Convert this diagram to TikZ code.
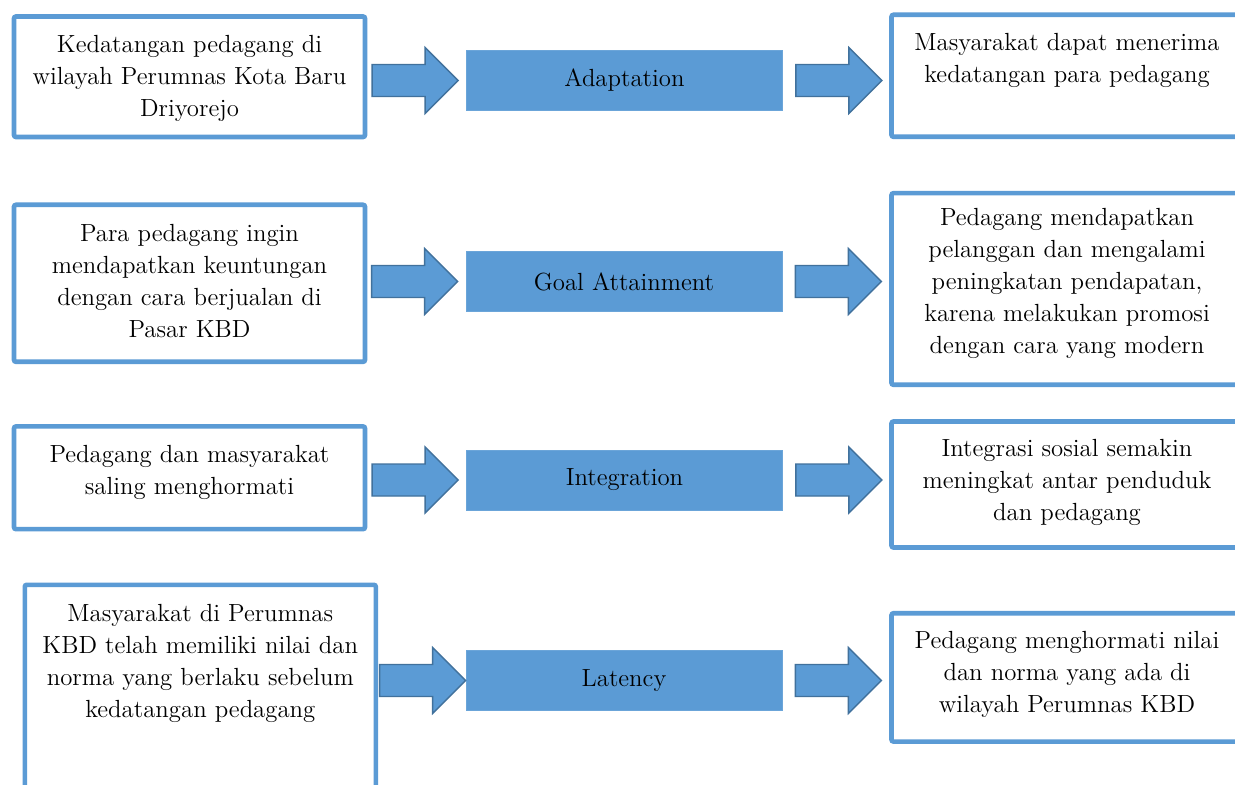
\documentclass[tikz,border=0pt]{standalone}
\usepackage{tikz}
\definecolor{boxblue}{HTML}{5B9BD5}
\definecolor{arrowedge}{HTML}{41719C}
\newcommand{\blockarrow}[1]{\draw[arrowstyle] (#1) -- ++(-33,-33) -- ++(0,17) -- ++(-53,0) -- ++(0,32) -- ++(53,0) -- ++(0,17) -- cycle;}

\begin{document}
\begin{tikzpicture}[x=0.5pt,y=-0.5pt,
    framebox/.style={draw=boxblue,line width=2.3pt,rounded corners=1pt,fill=white,inner sep=0pt,minimum width=175.5pt},
    midbox/.style={fill=boxblue,draw=boxblue!90!white,line width=0.4pt,inner sep=0pt,minimum width=158pt,minimum height=30pt,font=\fontsize{12.4}{16}\selectfont},
    boxtext/.style={anchor=north,align=center,inner sep=0pt,font=\fontsize{12.4}{16}\selectfont},
    arrowstyle/.style={fill=boxblue,draw=arrowedge,line width=0.7pt,line join=miter}]
  \useasboundingbox (0,0) rectangle (1235,785);
  \clip (0,0) rectangle (1235,785);
  \fill[white] (0,0) rectangle (1235,785);

  \node[framebox,minimum height=60.25pt] (L1) at (189.5,76.75) {};
  \node[framebox,minimum height=78.5pt] (L2) at (189.5,283.3) {};
  \node[framebox,minimum height=51.35pt] (L3) at (189.5,477.8) {};
  \node[framebox,minimum height=112.6pt] (L4) at (200.3,697.4) {};

  \node[boxtext] (tL1) at ([yshift=-10.5pt]L1.north) {Kedatangan pedagang di\\wilayah Perumnas Kota Baru\\Driyorejo};
  \node[boxtext] (tL2) at ([yshift=-10.5pt]L2.north) {Para pedagang ingin\\mendapatkan keuntungan\\dengan cara berjualan di\\Pasar KBD};
  \node[boxtext] (tL3) at ([yshift=-10.5pt]L3.north) {Pedagang dan masyarakat\\saling menghormati};
  \node[boxtext] (tL4) at ([yshift=-10.5pt]L4.north) {Masyarakat di Perumnas\\KBD telah memiliki nilai dan\\norma yang berlaku sebelum\\kedatangan pedagang};

  \node[midbox] (M1) at (624.5,80.5) {Adaptation};
  \node[midbox] (M2) at (624,281.5) {Goal Attainment};
  \node[midbox] (M3) at (624.5,480) {Integration};
  \node[midbox] (M4) at (624,680.5) {Latency};

  \node[framebox,minimum height=61pt] (R1) at (1067,75.8) {};
  \node[framebox,minimum height=95.8pt] (R2) at (1067,289) {};
  \node[framebox,minimum height=63pt] (R3) at (1067,484.5) {};
  \node[framebox,minimum height=64.15pt] (R4) at (1067,677.4) {};

  \node[boxtext] (tR1) at ([yshift=-10pt]R1.north) {Masyarakat dapat menerima\\kedatangan para pedagang};
  \node[boxtext] (tR2) at ([yshift=-8.5pt]R2.north) {Pedagang mendapatkan\\pelanggan dan mengalami\\peningkatan pendapatan,\\karena melakukan promosi\\dengan cara yang modern};
  \node[boxtext] (tR3) at ([yshift=-10pt]R3.north) {Integrasi sosial semakin\\meningkat antar penduduk\\dan pedagang};
  \node[boxtext] (tR4) at ([yshift=-10pt]R4.north) {Pedagang menghormati nilai\\dan norma yang ada di\\wilayah Perumnas KBD};

  \blockarrow{[xshift=-4pt]M1.west}
  \blockarrow{[xshift=-4pt]M2.west}
  \blockarrow{[xshift=-4pt]M3.west}
  \blockarrow{M4.west}
  \foreach \m in {M1,M2,M3,M4} {\blockarrow{[xshift=49.5pt]\m.east}}
\end{tikzpicture}
\end{document}
